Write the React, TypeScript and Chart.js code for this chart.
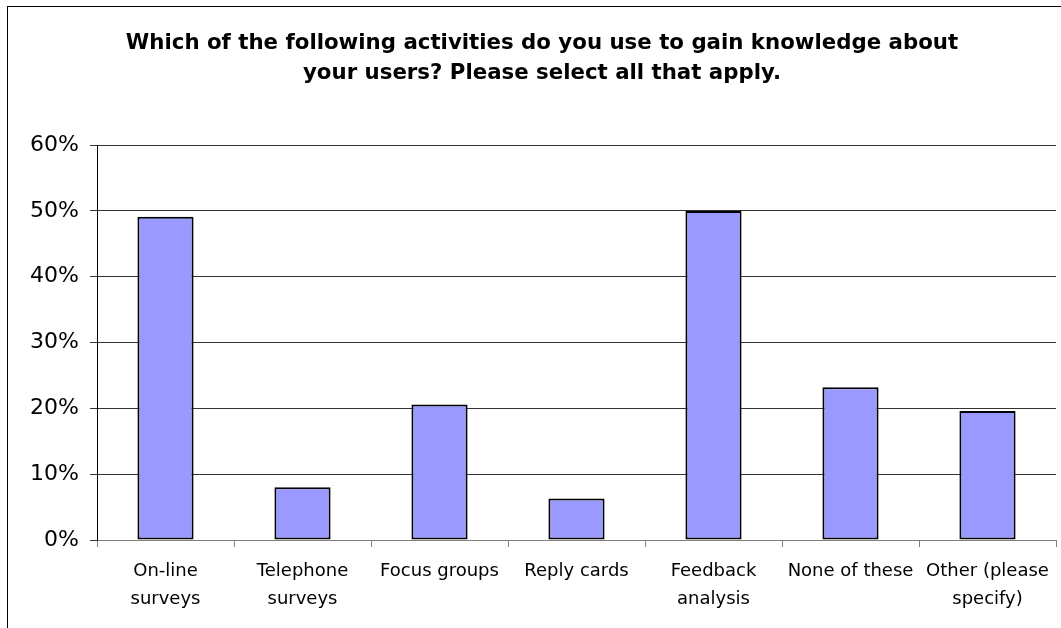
import React, { useEffect, useRef } from "react";
import { Chart, registerables } from "chart.js";

Chart.register(...registerables);

const titleLines = [
  "Which of the following activities do you use to gain knowledge about",
  "your users? Please select all that apply.",
];

const categories: string[][] = [
  ["On-line", "surveys"],
  ["Telephone", "surveys"],
  ["Focus groups"],
  ["Reply cards"],
  ["Feedback", "analysis"],
  ["None of these"],
  ["Other (please", "specify)"],
];

const shares = [0.491, 0.08, 0.206, 0.063, 0.5, 0.232, 0.196];

const yTicks = [0, 0.1, 0.2, 0.3, 0.4, 0.5, 0.6];

export default function App() {
  const ref = useRef<HTMLCanvasElement | null>(null);

  useEffect(() => {
    if (!ref.current) return;
    const chart = new Chart(ref.current, {
      type: "bar",
      data: {
        labels: categories,
        datasets: [
          {
            data: shares,
            backgroundColor: "#9999FF",
            borderColor: "#000000",
            borderWidth: 2,
            borderSkipped: false,
            barPercentage: 0.41,
            categoryPercentage: 1,
          },
        ],
      },
      options: {
        responsive: false,
        animation: false,
        layout: { padding: { left: 28, right: 5, top: 0, bottom: 0 } },
        plugins: {
          legend: { display: false },
          tooltip: { enabled: false },
          title: {
            display: true,
            text: titleLines,
            color: "#000",
            font: { family: "'DejaVu Sans'", size: 21.3, weight: "bold", lineHeight: 1.41 },
            padding: { top: 28, bottom: 57 },
          },
        },
        scales: {
          x: {
            offset: true,
            grid: {
              display: true,
              drawOnChartArea: false,
              drawTicks: true,
              tickLength: 7,
              color: "#808080",
              offset: true,
            },
            border: { display: true, color: "#808080", width: 1 },
            ticks: {
              color: "#000",
              font: { family: "'DejaVu Sans'", size: 18, lineHeight: 1.55 },
              padding: 10,
              maxRotation: 0,
              autoSkip: false,
            },
            afterFit: (scale: any) => {
              scale.height = 88;
            },
          },
          y: {
            min: 0,
            max: 0.6,
            afterBuildTicks: (scale: any) => {
              scale.ticks = yTicks.map((v) => ({ value: v }));
            },
            grid: {
              color: "#333333",
              lineWidth: 1,
              drawTicks: true,
              tickLength: 7,
            },
            border: { display: true, color: "#000", width: 1 },
            ticks: {
              color: "#000",
              font: { family: "'DejaVu Sans'", size: 22 },
              padding: 11,
              callback: (v: any) => `${Math.round(Number(v) * 100)}%`,
            },
            afterFit: (scale: any) => {
              scale.width = 69;
            },
          },
        },
      },
    });
    return () => chart.destroy();
  }, []);

  return (
    <>
      <div
        style={{
          position: "absolute",
          left: 7,
          top: 6,
          width: 1054,
          height: 622,
          boxSizing: "border-box",
          borderTop: "1px solid #000",
          borderLeft: "1px solid #000",
        }}
      />
      <canvas
        ref={ref}
        width={1061}
        height={628}
        style={{ position: "absolute", left: 0, top: 0, width: 1061, height: 628 }}
      />
    </>
  );
}
